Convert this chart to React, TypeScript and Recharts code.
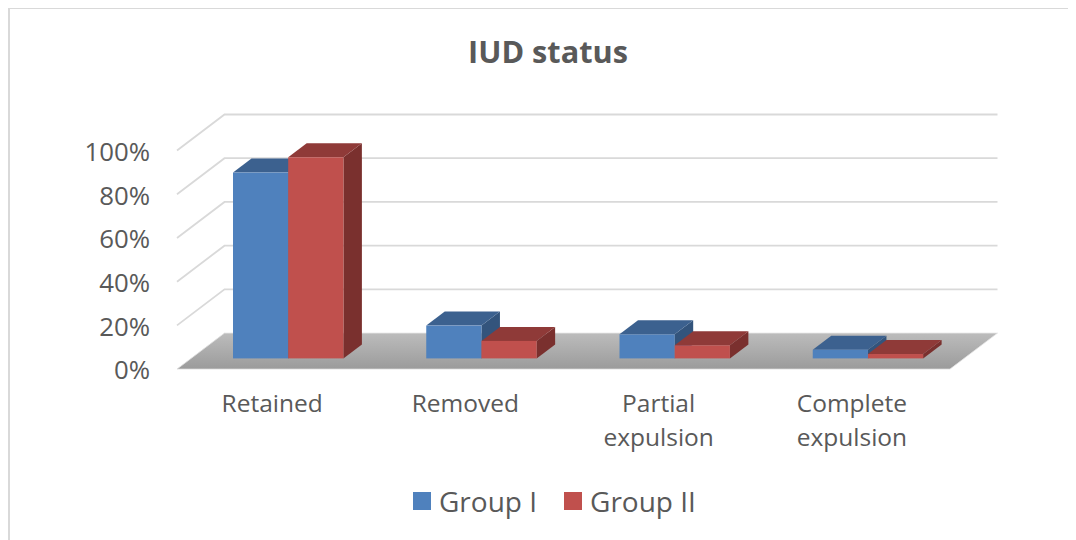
import { Bar, BarChart, CartesianGrid, Legend, XAxis, YAxis } from "recharts";

const categories = ["Retained", "Removed", "Partial expulsion", "Complete expulsion"];
const groupOne = [85, 15, 11, 4];
const groupTwo = [92, 8, 6, 2];
const percentTicks = [0, 20, 40, 60, 80, 100];

const data = categories.map((name, i) => ({ name, groupOne: groupOne[i], groupTwo: groupTwo[i] }));

const FONT = "'Open Sans', sans-serif";
const TEXT = "#595959";
const GRID = "#d9d9d9";

// projection of the wall and floor relative to the bar plane
const FRONT_DX = -15;
const FRONT_DY = 10.7;
const BACK_DX = 32.5;
const BACK_DY = -25.3;
const BAR_DX = 18.5;
const BAR_DY = 14;

function wallLine(props: any) {
  const { x1, x2, y1, index } = props;
  const frontX = x1 + FRONT_DX;
  const frontY = y1 + FRONT_DY;
  const backX = x1 + BACK_DX;
  const backY = y1 + BACK_DY;
  if (index === 0) {
    return (
      <g key="floor">
        <defs>
          <linearGradient id="floorFill" x1="0" y1="0" x2="0" y2="1">
            <stop offset="0%" stopColor="#bcbcbc" />
            <stop offset="100%" stopColor="#9b9b9b" />
          </linearGradient>
        </defs>
        <polygon
          points={`${frontX},${frontY} ${backX},${backY} ${x2 + BACK_DX},${backY} ${x2 + FRONT_DX},${frontY}`}
          fill="url(#floorFill)"
          stroke="#e2e2e2"
          strokeWidth={0.8}
        />
      </g>
    );
  }
  return (
    <polyline
      key={`wall-${y1}`}
      points={`${frontX},${frontY} ${backX},${backY} ${x2 + BACK_DX},${backY}`}
      fill="none"
      stroke={GRID}
      strokeWidth={1.8}
    />
  );
}

function box(topColor: string, sideColor: string) {
  return function BoxShape(props: any) {
    const { x, y, width, height, fill } = props;
    const right = x + width;
    const bottom = y + height;
    return (
      <g>
        <polygon
          points={`${right},${y} ${right + BAR_DX},${y - BAR_DY} ${right + BAR_DX},${bottom - BAR_DY} ${right},${bottom}`}
          fill={sideColor}
        />
        <polygon
          points={`${x},${y} ${x + BAR_DX},${y - BAR_DY} ${right + BAR_DX},${y - BAR_DY} ${right},${y}`}
          fill={topColor}
        />
        <rect x={x} y={y} width={width} height={height} fill={fill} />
      </g>
    );
  };
}

function PercentTick({ y, payload }: any) {
  return (
    <text x={142} y={y + 21} textAnchor="end" fontFamily={FONT} fontSize={25.8} fill={TEXT}>
      {payload.value}%
    </text>
  );
}

function CategoryTick({ x, y, payload }: any) {
  const lines = String(payload.value).split(" ");
  return (
    <text textAnchor="middle" fontFamily={FONT} fontSize={24.5} fill={TEXT}>
      {lines.map((line, i) => (
        <tspan key={line} x={x - 16.5} y={y + 46 + i * 34}>
          {line}
        </tspan>
      ))}
    </text>
  );
}

function LegendRow({ payload }: any) {
  return (
    <div style={{ display: "flex", alignItems: "center", fontFamily: FONT, fontSize: 28, color: TEXT }}>
      {(payload || []).map((item: any) => (
        <div key={item.value} style={{ display: "flex", alignItems: "center", marginRight: 27 }}>
          <span style={{ width: 18, height: 18, background: item.color, marginRight: 8 }} />
          <span>{item.value}</span>
        </div>
      ))}
    </div>
  );
}

export default function App() {
  return (
    <div style={{ position: "relative", width: 1068, height: 532 }}>
      <div style={{ position: "absolute", left: 0, top: -1, width: 1068, height: 2, background: GRID }} />
      <div style={{ position: "absolute", left: 0, top: -1, width: 2, height: 533, background: GRID }} />
      <div
        style={{
          position: "absolute",
          left: 0,
          top: 22,
          width: 1080,
          textAlign: "center",
          fontFamily: FONT,
          fontSize: 30.7,
          fontWeight: 700,
          color: TEXT,
        }}
      >
        IUD status
      </div>
      <BarChart
        width={1068}
        height={524}
        data={data}
        margin={{ top: 131.8, right: 111, bottom: 75.6, left: 124 }}
        barSize={55.2}
        barGap={0}
      >
        <CartesianGrid vertical={false} horizontal={wallLine} />
        <XAxis dataKey="name" axisLine={false} tickLine={false} interval={0} height={60} tick={<CategoryTick />} />
        <YAxis
          width={60}
          domain={[0, 100]}
          ticks={percentTicks}
          axisLine={false}
          tickLine={false}
          tick={<PercentTick />}
        />
        <Legend
          verticalAlign="bottom"
          wrapperStyle={{ left: 405, top: 474, bottom: "auto", width: 320 }}
          content={<LegendRow />}
        />
        <Bar dataKey="groupOne" name="Group I" fill="#4f81bd" isAnimationActive={false} shape={box("#3c618f", "#33547c")} />
        <Bar dataKey="groupTwo" name="Group II" fill="#c0504d" isAnimationActive={false} shape={box("#8f3a38", "#7a302e")} />
      </BarChart>
    </div>
  );
}
